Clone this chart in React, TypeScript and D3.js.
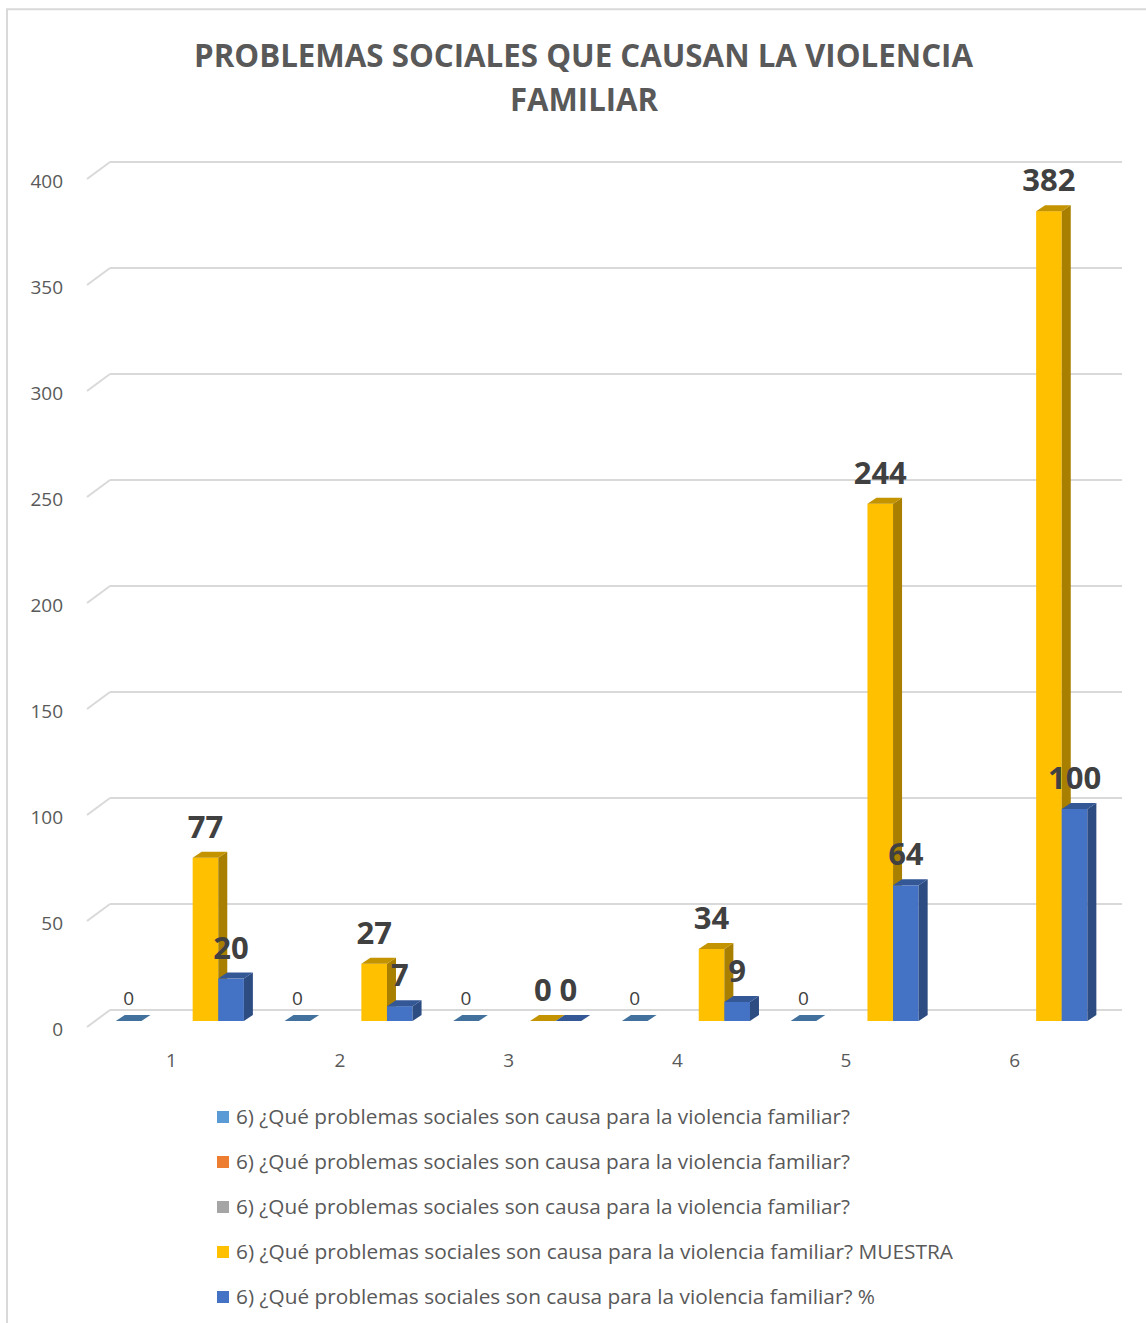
import React from 'react';
import * as d3 from 'd3';

// chart values
const categories = ['1', '2', '3', '4', '5', '6'];
const legendLabel = '6) ¿Qué problemas sociales son causa para la violencia familiar?';
const serieA: (number | null)[] = [0, 0, 0, 0, 0, null];
const serieB: (number | null)[] = [null, null, null, null, null, null];
const serieC: (number | null)[] = [null, null, null, null, null, null];
const muestra: (number | null)[] = [77, 27, 0, 34, 244, 382];
const porcentaje: (number | null)[] = [20, 7, 0, 9, 64, 100];
const yTicks = [0, 50, 100, 150, 200, 250, 300, 350, 400];

const series = [
  { name: legendLabel, values: serieA, color: '#5B9BD5', bold: false, legendLen: 614 },
  { name: legendLabel, values: serieB, color: '#ED7D31', bold: false, legendLen: 614 },
  { name: legendLabel, values: serieC, color: '#A5A5A5', bold: false, legendLen: 614 },
  { name: legendLabel + ' MUESTRA', values: muestra, color: '#FFC000', bold: true, legendLen: 717 },
  { name: legendLabel + ' %', values: porcentaje, color: '#4472C4', bold: true, legendLen: 639 },
];

const W = 1146;
const H = 1323;
const font = '"Open Sans", "DejaVu Sans", sans-serif';

// 3D layout: front floor edge, bar plane, back wall
const frontX0 = 87;
const frontX1 = 1099;
const frontY0 = 1027;
const wallDx = 23;
const wallDy = -17;
const barShift = 8.6;
const barY0 = 1021;
const depthDx = 9;
const depthDy = -6;

const App: React.FC = () => {
  const h = d3.scaleLinear().domain([0, 400]).range([0, 848]);

  const xFront = d3.scaleBand<string>().domain(categories).range([frontX0, frontX1]);
  const xBar = d3
    .scaleBand<string>()
    .domain(categories)
    .range([frontX0 + barShift, frontX1 + barShift])
    .paddingInner(0.241)
    .paddingOuter(0.12);
  const xSeries = d3
    .scaleBand<number>()
    .domain(series.map((_, i) => i))
    .range([0, xBar.bandwidth()]);
  const bw = xSeries.bandwidth();

  const bars: React.ReactNode[] = [];
  const labels: React.ReactNode[] = [];

  categories.forEach((cat, ci) => {
    series.forEach((s, si) => {
      const v = s.values[ci];
      if (v === null || v === undefined) return;
      const x = (xBar(cat) ?? 0) + (xSeries(si) ?? 0);
      const yTop = barY0 - h(v);
      const base = d3.color(s.color)!;
      const side = base.darker(1.15).formatHex();
      const top = base.darker(0.75).formatHex();
      const key = `${ci}-${si}`;
      if (v > 0) {
        bars.push(
          <g key={key}>
            <rect x={x} y={yTop} width={bw} height={barY0 - yTop} fill={s.color} />
            <polygon
              points={`${x + bw},${yTop} ${x + bw + depthDx},${yTop + depthDy} ${x + bw + depthDx},${barY0 + depthDy} ${x + bw},${barY0}`}
              fill={side}
            />
            <polygon
              points={`${x},${yTop} ${x + depthDx},${yTop + depthDy} ${x + bw + depthDx},${yTop + depthDy} ${x + bw},${yTop}`}
              fill={top}
            />
          </g>
        );
      } else {
        bars.push(
          <polygon
            key={key}
            points={`${x},${barY0} ${x + depthDx},${barY0 + depthDy} ${x + bw + depthDx},${barY0 + depthDy} ${x + bw},${barY0}`}
            fill={si === 0 ? '#41719C' : top}
          />
        );
      }
      labels.push(
        <text
          key={'l' + key}
          x={x + bw / 2}
          y={yTop - (s.bold ? 20 : 16)}
          textAnchor="middle"
          fontFamily={font}
          fontSize={s.bold ? 31 : 19}
          fontWeight={s.bold ? 700 : 400}
          fill="#404040"
        >
          {v}
        </text>
      );
    });
  });

  const backY0 = frontY0 + wallDy;
  const backX0 = frontX0 + wallDx;
  const backX1 = frontX1 + wallDx;

  return (
    <div style={{ position: 'absolute', left: 0, top: 0 }}>
      <svg width={W} height={H} viewBox={`0 0 ${W} ${H}`} style={{ display: 'block', background: '#fff' }}>
        {/* outer frame */}
        <path d={`M7,${H} V9.3 H${W}`} fill="none" stroke="#d9d9d9" strokeWidth={2} />

        {/* title */}
        <text
          x={583.5}
          y={67}
          textAnchor="middle"
          fontFamily={font}
          fontSize={33}
          fontWeight={700}
          fill="#595959"
          textLength={779}
          lengthAdjust="spacingAndGlyphs"
        >
          PROBLEMAS SOCIALES QUE CAUSAN LA VIOLENCIA
        </text>
        <text
          x={584}
          y={111}
          textAnchor="middle"
          fontFamily={font}
          fontSize={33}
          fontWeight={700}
          fill="#595959"
          textLength={148}
          lengthAdjust="spacingAndGlyphs"
        >
          FAMILIAR
        </text>

        {/* gridlines: back wall + side wall */}
        {yTicks.map((t) => {
          const yb = backY0 - h(t);
          const yf = frontY0 - h(t);
          return (
            <g key={'g' + t}>
              <line x1={backX0} x2={backX1} y1={yb} y2={yb} stroke="#d9d9d9" strokeWidth={2} />
              <line x1={frontX0} x2={backX0} y1={yf} y2={yb} stroke="#d9d9d9" strokeWidth={2} />
              <text
                x={63}
                y={yf + 9}
                textAnchor="end"
                fontFamily={font}
                fontSize={19}
                fill="#595959"
              >
                {t}
              </text>
            </g>
          );
        })}

        {/* category labels */}
        {categories.map((c) => (
          <text
            key={'c' + c}
            x={(xFront(c) ?? 0) + xFront.bandwidth() / 2}
            y={1067}
            textAnchor="middle"
            fontFamily={font}
            fontSize={19}
            fill="#595959"
          >
            {c}
          </text>
        ))}

        {bars}
        {labels}

        {/* legend */}
        {series.map((s, i) => {
          const y = 1124 + i * 45;
          return (
            <g key={'lg' + i}>
              <rect x={217} y={y - 13} width={12} height={12} fill={s.color} />
              <text
                x={236}
                y={y}
                fontFamily={font}
                fontSize={20}
                fill="#595959"
                textLength={s.legendLen}
                lengthAdjust="spacingAndGlyphs"
              >
                {s.name}
              </text>
            </g>
          );
        })}
      </svg>
    </div>
  );
};

export default App;
